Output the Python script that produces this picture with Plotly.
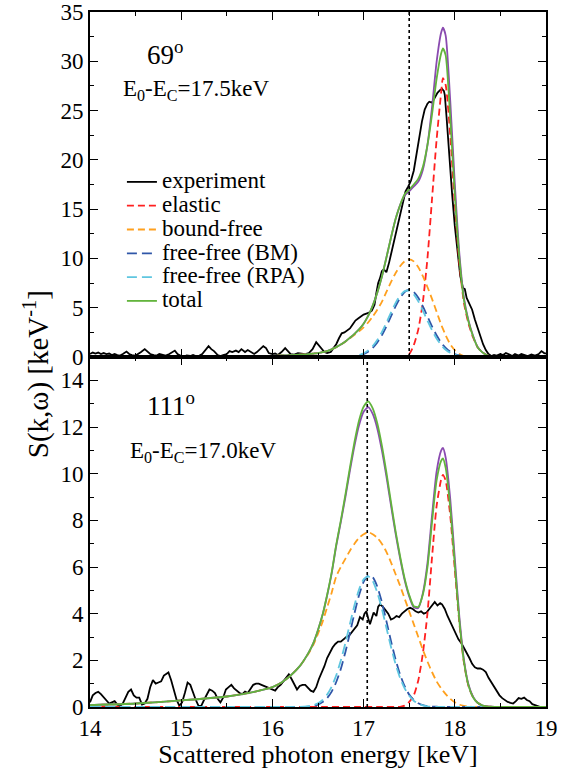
import plotly.graph_objects as go

# ---------------- data ----------------
# common energy grid for the model curves [keV]
E_MODEL = [14.0, 14.5, 15.0, 15.5, 15.8, 16.0, 16.1, 16.2, 16.3, 16.4,
           16.45, 16.5, 16.55, 16.6, 16.65, 16.7, 16.75, 16.8, 16.85, 16.9,
           16.95, 17.0, 17.05, 17.1, 17.15, 17.2, 17.25, 17.3, 17.35, 17.4,
           17.45, 17.5, 17.55, 17.6, 17.65, 17.7, 17.75, 17.8, 17.85, 17.87,
           17.9, 17.95, 18.0, 18.05, 18.1, 18.15, 18.2, 18.25, 18.3, 18.35,
           18.4, 18.5, 18.6, 18.8, 19.0]

# ----- 69 degrees (top panel) -----
top_elastic = [0, 0, 0, 0, 0, 0, 0, 0, 0, 0,
               0, 0, 0, 0, 0, 0, 0, 0, 0, 0,
               0, 0, 0, 0, 0, 0, 0, 0, 0, 0.01,
               0.1, 0.3, 1.2, 2.8, 5.6, 10.0, 16.0, 22.0, 26.8, 28.3,
               27.6, 22.5, 15.5, 9.5, 5.5, 3.4, 2.0, 1.0, 0.5, 0.2,
               0.05, 0, 0, 0, 0]
top_boundfree = [0.01, 0.02, 0.03, 0.06, 0.09, 0.12, 0.15, 0.19, 0.24, 0.3,
                 0.35, 0.4, 0.5, 0.6, 0.78, 1.0, 1.25, 1.55, 1.9, 2.25,
                 2.6, 3.0, 3.5, 4.1, 4.8, 5.6, 6.6, 7.6, 8.5, 9.2,
                 9.7, 9.9, 9.7, 9.1, 8.2, 7.1, 5.9, 4.6, 3.3, 2.85,
                 2.2, 1.3, 0.7, 0.3, 0.1, 0.03, 0.01, 0, 0, 0,
                 0, 0, 0, 0, 0]
top_ff_bm = [0, 0, 0, 0, 0, 0, 0, 0, 0, 0,
             0, 0, 0, 0, 0, 0, 0.01, 0.02, 0.04, 0.08,
             0.16, 0.30, 0.54, 0.92, 1.47, 2.21, 3.11, 4.12, 5.13, 6.0,
             6.59, 6.8, 6.59, 6.0, 5.13, 4.12, 3.11, 2.21, 1.47, 1.23,
             0.92, 0.54, 0.30, 0.16, 0.08, 0.04, 0.02, 0.01, 0, 0,
             0, 0, 0, 0, 0]
top_ff_rpa = [0, 0, 0, 0, 0, 0, 0, 0, 0, 0,
              0, 0, 0, 0, 0, 0, 0.01, 0.02, 0.05, 0.10,
              0.20, 0.38, 0.67, 1.11, 1.73, 2.53, 3.48, 4.50, 5.47, 6.23,
              6.68, 6.72, 6.35, 5.64, 4.70, 3.69, 2.71, 1.88, 1.22, 1.01,
              0.74, 0.43, 0.23, 0.12, 0.06, 0.02, 0.01, 0, 0, 0,
              0, 0, 0, 0, 0]
top_total = [0.01, 0.02, 0.03, 0.06, 0.09, 0.12, 0.15, 0.19, 0.24, 0.3,
             0.35, 0.4, 0.5, 0.6, 0.78, 1.0, 1.26, 1.57, 1.95, 2.35,
             2.8, 3.38, 4.17, 5.21, 6.53, 8.13, 10.08, 12.1, 13.97, 15.4,
             16.5, 17.0, 17.5, 18.1, 19.3, 21.5, 24.6, 28.2, 30.8, 31.3,
             30.6, 24.3, 16.5, 10.0, 5.8, 3.6, 2.1, 1.0, 0.5, 0.2,
             0.05, 0, 0, 0, 0]
top_total_bm = [0.01, 0.02, 0.03, 0.06, 0.09, 0.12, 0.15, 0.19, 0.24, 0.3,
                0.35, 0.4, 0.5, 0.6, 0.78, 1.0, 1.26, 1.57, 1.95, 2.35,
                2.8, 3.38, 4.17, 5.21, 6.53, 8.13, 10.08, 12.1, 13.97, 15.4,
                16.4, 16.8, 17.3, 17.8, 19.0, 21.5, 25.3, 29.9, 32.9, 33.4,
                32.6, 26.0, 17.6, 10.5, 6.0, 3.7, 2.15, 1.02, 0.5, 0.2,
                0.05, 0, 0, 0, 0]

top_exp_E = [14.00, 14.03, 14.06, 14.09, 14.12, 14.15, 14.18, 14.21, 14.24, 14.27,
             14.30, 14.33, 14.36, 14.40, 14.43, 14.46, 14.50, 14.53, 14.56, 14.60,
             14.63, 14.66, 14.70, 14.73, 14.76, 14.80, 14.83, 14.87, 14.90, 14.93,
             14.96, 15.00, 15.03, 15.06, 15.10, 15.13, 15.16, 15.20, 15.23, 15.26,
             15.30, 15.33, 15.36, 15.40, 15.43, 15.46, 15.50, 15.53, 15.56, 15.60,
             15.63, 15.66, 15.70, 15.73, 15.76, 15.80, 15.83, 15.86, 15.90, 15.93,
             15.96, 16.00, 16.03, 16.06, 16.10, 16.14, 16.17, 16.20, 16.24, 16.28,
             16.32, 16.36, 16.40, 16.44, 16.48, 16.51, 16.54, 16.57, 16.60, 16.64,
             16.67, 16.70, 16.73, 16.76, 16.79, 16.82, 16.85, 16.88, 16.91, 16.94,
             16.97, 17.00, 17.03, 17.06, 17.09, 17.12, 17.14, 17.16, 17.18, 17.20,
             17.22, 17.25, 17.28, 17.31, 17.34, 17.37, 17.40, 17.43, 17.46, 17.49,
             17.52, 17.55, 17.58, 17.61, 17.64, 17.67, 17.70, 17.72, 17.75, 17.78,
             17.81, 17.84, 17.86, 17.88, 17.89, 17.91, 17.93, 17.95, 17.97, 18.00,
             18.03, 18.06, 18.09, 18.11, 18.13, 18.16, 18.19, 18.22, 18.25, 18.28,
             18.31, 18.34, 18.37, 18.40, 18.43, 18.46, 18.50, 18.53, 18.56, 18.60,
             18.63, 18.66, 18.70, 18.73, 18.76, 18.80, 18.84, 18.88, 18.92, 18.95,
             18.98, 19.00]
top_exp_S = [0.3, 0.45, 0.35, 0.45, 0.3, 0.4, 0.3, 0.35, 0.2, 0.3,
             0.2, 0.15, 0.3, 0.55, 0.3, 0.2, 0.15, 0.3, 0.5, 0.8,
             0.5, 0.3, 0.2, 0.15, 0.3, 0.2, 0.15, 0.3, 0.45, 0.65,
             0.3, 0.1, 0.05, 0.15, 0.1, 0.2, 0.1, 0.15, 0.3, 0.6,
             1.1, 0.8, 0.6, 0.2, 0.1, 0.2, 0.3, 0.6, 0.5, 0.65,
             0.5, 0.8, 0.5, 0.7, 0.5, 0.3, 0.5, 0.8, 1.1, 0.9,
             0.4, 0.3, 0.35, 0.2, 0.5, 0.9, 0.6, 0.3, 0.25, 0.4,
             0.35, 0.3, 0.4, 0.8, 1.5, 1.2, 0.9, 0.5, 0.4, 0.5,
             0.9, 1.3, 1.9, 2.4, 2.5, 2.7, 2.9, 3.3, 3.7, 3.9,
             4.1, 4.3, 4.4, 4.5, 4.7, 5.3, 6.5, 7.5, 8.0, 8.7,
             8.9, 8.6, 9.6, 10.8, 12.2, 13.5, 14.6, 15.8, 16.8, 17.3,
             17.9, 18.9, 20.6, 22.3, 23.9, 25.1, 25.7, 25.9, 25.8, 26.3,
             26.8, 27.1, 27.2, 27.0, 26.6, 24.3, 21.6, 19.3, 16.6, 13.3,
             10.5, 8.2, 7.0, 6.9, 6.0, 5.3, 4.8, 3.8, 2.9, 2.2,
             1.3, 0.7, 0.3, 0.1, 0.2, 0.15, 0.3, 0.2, 0.4, 0.25,
             0.1, 0.3, 0.15, 0.3, 0.2, 0.1, 0.25, 0.15, 0.3, 0.6,
             0.4, 0.35]

# ----- 111 degrees (bottom panel) -----
bot_elastic = [0, 0, 0, 0, 0, 0, 0, 0, 0, 0,
               0, 0, 0, 0, 0, 0, 0, 0, 0, 0,
               0, 0, 0, 0, 0, 0, 0, 0, 0, 0.01,
               0.06, 0.22, 0.5, 1.15, 2.3, 4.0, 6.4, 8.6, 9.75, 9.95,
               9.7, 8.2, 5.9, 3.6, 1.9, 0.9, 0.42, 0.18, 0.07, 0.03,
               0.01, 0, 0, 0, 0]
bot_boundfree = [0.08, 0.15, 0.28, 0.45, 0.65, 0.85, 1.05, 1.35, 1.75, 2.31,
                 2.67, 3.14, 3.65, 4.27, 4.9, 5.6, 6.0, 6.35, 6.7, 7.0,
                 7.25, 7.4, 7.5, 7.4, 7.25, 7.0, 6.65, 6.2, 5.7, 5.2,
                 4.65, 4.1, 3.55, 3.0, 2.45, 1.95, 1.5, 1.1, 0.8, 0.7,
                 0.55, 0.35, 0.2, 0.1, 0.05, 0.02, 0, 0, 0, 0,
                 0, 0, 0, 0, 0]
bot_ff_bm = [0, 0, 0, 0, 0, 0, 0, 0, 0, 0.02,
             0.05, 0.10, 0.21, 0.38, 0.66, 1.07, 1.63, 2.35, 3.17, 4.02,
             4.79, 5.36, 5.63, 5.56, 5.16, 4.50, 3.68, 2.83, 2.05, 1.39,
             0.89, 0.53, 0.30, 0.16, 0.08, 0.04, 0.015, 0.01, 0, 0,
             0, 0, 0, 0, 0, 0, 0, 0, 0, 0,
             0, 0, 0, 0, 0]
bot_ff_rpa = [0, 0, 0, 0, 0, 0, 0, 0, 0, 0.04,
              0.08, 0.16, 0.30, 0.53, 0.87, 1.36, 1.99, 2.74, 3.56, 4.36,
              5.03, 5.47, 5.6, 5.40, 4.91, 4.21, 3.40, 2.58, 1.85, 1.25,
              0.80, 0.48, 0.27, 0.14, 0.07, 0.03, 0.01, 0, 0, 0,
              0, 0, 0, 0, 0, 0, 0, 0, 0, 0,
              0, 0, 0, 0, 0]
bot_total = [0.08, 0.15, 0.28, 0.45, 0.65, 0.85, 1.05, 1.35, 1.75, 2.35,
             2.75, 3.3, 3.95, 4.8, 5.77, 6.96, 7.99, 9.09, 10.26, 11.36,
             12.28, 12.87, 13.1, 12.8, 12.16, 11.21, 10.05, 8.78, 7.55, 6.46,
             5.51, 4.8, 4.32, 4.29, 4.82, 5.98, 7.91, 9.7, 10.55, 10.65,
             10.25, 8.55, 6.1, 3.7, 1.95, 0.92, 0.42, 0.18, 0.07, 0.03,
             0.01, 0, 0, 0, 0]
bot_total_bm = [0.08, 0.15, 0.28, 0.45, 0.65, 0.85, 1.05, 1.35, 1.75, 2.35,
                2.75, 3.3, 3.95, 4.78, 5.73, 6.91, 7.92, 8.99, 10.13, 11.19,
                12.07, 12.65, 12.85, 12.56, 11.94, 11.01, 9.88, 8.65, 7.45, 6.38,
                5.44, 4.74, 4.27, 4.24, 4.88, 6.16, 8.19, 10.08, 10.99, 11.1,
                10.69, 8.92, 6.37, 3.86, 2.03, 0.96, 0.44, 0.18, 0.07, 0.03,
                0.01, 0, 0, 0, 0]

bot_exp_E = [14.00, 14.03, 14.06, 14.09, 14.12, 14.15, 14.18, 14.21, 14.24, 14.27,
             14.30, 14.33, 14.36, 14.39, 14.42, 14.45, 14.48, 14.51, 14.54, 14.57,
             14.60, 14.63, 14.66, 14.69, 14.72, 14.75, 14.78, 14.81, 14.84, 14.86,
             14.89, 14.92, 14.95, 14.98, 15.01, 15.04, 15.07, 15.10, 15.13, 15.16,
             15.19, 15.22, 15.25, 15.28, 15.31, 15.34, 15.37, 15.40, 15.43, 15.46,
             15.49, 15.52, 15.55, 15.58, 15.61, 15.64, 15.67, 15.70, 15.73, 15.76,
             15.79, 15.82, 15.85, 15.88, 15.91, 15.94, 15.97, 16.00, 16.03, 16.06,
             16.09, 16.12, 16.15, 16.18, 16.21, 16.24, 16.27, 16.30, 16.33, 16.36,
             16.39, 16.42, 16.45, 16.48, 16.51, 16.54, 16.57, 16.60, 16.63, 16.66,
             16.69, 16.72, 16.75, 16.78, 16.81, 16.84, 16.87, 16.90, 16.93, 16.96,
             16.99, 17.01, 17.03, 17.05, 17.07, 17.09, 17.11, 17.14, 17.16, 17.18,
             17.21, 17.24, 17.27, 17.30, 17.33, 17.36, 17.39, 17.42, 17.45, 17.48,
             17.51, 17.54, 17.57, 17.60, 17.63, 17.66, 17.69, 17.72, 17.75, 17.78,
             17.81, 17.84, 17.86, 17.89, 17.92, 17.95, 17.98, 18.01, 18.04, 18.07,
             18.10, 18.13, 18.16, 18.19, 18.22, 18.25, 18.28, 18.31, 18.34, 18.37,
             18.40, 18.43, 18.46, 18.49, 18.52, 18.55, 18.58, 18.61, 18.64, 18.67,
             18.70, 18.73, 18.76, 18.79, 18.82, 18.85, 18.88, 18.91, 18.94, 18.97,
             19.00]
bot_exp_S = [0.2, 0.5, 0.6, 0.65, 0.55, 0.4, 0.25, 0.15, 0.2, 0.25,
             0.1, 0.05, 0.15, 0.4, 0.65, 0.75, 0.5, 0.4, 0.4, 0.1,
             0.15, 0.35, 0.85, 1.15, 1.0, 1.05, 1.1, 1.35, 1.45, 1.48,
             1.15, 0.7, 0.3, 0.05, 0.2, 0.6, 1.05, 0.95, 0.6, 0.3,
             0.05, 0.05, 0.3, 0.5, 0.75, 0.7, 0.6, 0.35, 0.2, 0.4,
             0.75, 0.85, 0.95, 0.8, 0.7, 0.6, 0.55, 0.66, 0.6, 0.75,
             0.95, 1.0, 1.0, 0.95, 0.9, 0.85, 0.8, 0.75, 0.7, 0.85,
             0.95, 1.1, 1.25, 1.4, 1.2, 1.0, 0.75, 0.9, 0.95, 0.95,
             0.8, 0.7, 0.65, 0.85, 1.2, 1.45, 1.75, 2.1, 2.35, 2.55,
             2.7, 2.8, 2.8, 2.9, 3.0, 3.05, 3.2, 3.4, 3.5, 3.85,
             3.75, 4.0, 4.1, 3.8, 3.55, 3.8, 4.05, 3.9, 4.3, 4.4,
             4.3, 4.15, 4.0, 3.75, 3.8, 3.9, 3.85, 4.0, 4.1, 4.2,
             4.25, 4.2, 4.1, 4.05, 4.1, 4.0, 4.05, 4.2, 4.4, 4.5,
             4.35, 4.45, 4.4, 4.2, 3.9, 3.65, 3.35, 3.15, 2.9, 2.75,
             2.55, 2.35, 2.1, 1.85, 1.7, 1.65, 1.65, 1.6, 1.5, 1.25,
             1.05, 0.85, 0.65, 0.5, 0.38, 0.28, 0.22, 0.18, 0.15, 0.25,
             0.38, 0.35, 0.4, 0.3, 0.25, 0.12, 0.08, 0.03, 0.0, 0.0,
             0.0]

# E0 - Ec reference energies (dotted lines)
E_REF_TOP = 17.5
E_REF_BOT = 17.04

# ---------------- styles ----------------
FONT = "Liberation Serif, Times New Roman, Times, serif"
C_EXP = "#000000"
C_EL = "#ff2020"
C_BF = "#ffa01e"
C_BM = "#2f56a8"
C_RPA = "#5fc6e0"
C_TOT = "#62b43c"
C_TOT_BM = "#8a4bb0"

fig = go.Figure()


def lbl(t):
    return '<span style="font-size:23px">' + t + '</span>'


def add_panel(xa, ya, expE, expS, el, bf, bm, rpa, tot, totbm, show):
    fig.add_trace(go.Scatter(x=expE, y=expS, mode="lines", name=lbl("experiment"),
                             line=dict(color=C_EXP, width=1.8), xaxis=xa, yaxis=ya,
                             showlegend=show))
    fig.add_trace(go.Scatter(x=E_MODEL, y=el, mode="lines", name=lbl("elastic"),
                             line=dict(color=C_EL, width=1.8, dash="7px,4px", shape="spline", smoothing=0.6),
                             xaxis=xa, yaxis=ya, showlegend=show))
    fig.add_trace(go.Scatter(x=E_MODEL, y=bf, mode="lines", name=lbl("bound-free"),
                             line=dict(color=C_BF, width=1.8, dash="7px,4px", shape="spline", smoothing=0.6),
                             xaxis=xa, yaxis=ya, showlegend=show))
    fig.add_trace(go.Scatter(x=E_MODEL, y=bm, mode="lines", name=lbl("free-free (BM)"),
                             line=dict(color=C_BM, width=1.8, dash="10px,5px", shape="spline", smoothing=0.6),
                             xaxis=xa, yaxis=ya, showlegend=show))
    fig.add_trace(go.Scatter(x=E_MODEL, y=rpa, mode="lines", name=lbl("free-free (RPA)"),
                             line=dict(color=C_RPA, width=1.8, dash="10px,5px", shape="spline", smoothing=0.6),
                             xaxis=xa, yaxis=ya, showlegend=show))
    fig.add_trace(go.Scatter(x=E_MODEL, y=totbm, mode="lines", name="total (BM)",
                             line=dict(color=C_TOT_BM, width=1.8, shape="spline", smoothing=0.6),
                             xaxis=xa, yaxis=ya, showlegend=False))
    fig.add_trace(go.Scatter(x=E_MODEL, y=tot, mode="lines", name=lbl("total"),
                             line=dict(color=C_TOT, width=1.8, shape="spline", smoothing=0.6),
                             xaxis=xa, yaxis=ya, showlegend=show))


add_panel("x", "y", top_exp_E, top_exp_S, top_elastic, top_boundfree, top_ff_bm,
          top_ff_rpa, top_total, top_total_bm, True)
add_panel("x2", "y2", bot_exp_E, bot_exp_S, bot_elastic, bot_boundfree, bot_ff_bm,
          bot_ff_rpa, bot_total, bot_total_bm, False)

# dotted reference lines
fig.add_shape(type="line", xref="x", yref="y domain", x0=E_REF_TOP, x1=E_REF_TOP, y0=0, y1=1,
              line=dict(color="black", width=1.6, dash="dot"))
fig.add_shape(type="line", xref="x2", yref="y2 domain", x0=E_REF_BOT, x1=E_REF_BOT, y0=0, y1=1,
              line=dict(color="black", width=1.6, dash="dot"))

axis_common = dict(showline=True, linecolor="black", linewidth=1.6, ticks="inside",
                   tickcolor="black", tickwidth=1.4, mirror="allticks", showgrid=False,
                   zeroline=False, ticklabeloverflow="allow", automargin=False,
                   tickfont=dict(family=FONT, size=23, color="black"))
minor_common = dict(ticks="inside", tickcolor="black", tickwidth=1.4, ticklen=4)

TOP_M, BOT_M = 12, 62
plot_h = 769 - TOP_M - BOT_M
split = 350 / plot_h
fig.update_layout(
    width=570, height=769,
    margin=dict(l=90, r=24, t=TOP_M, b=BOT_M, autoexpand=False),
    paper_bgcolor="white", plot_bgcolor="white",
    font=dict(family=FONT, color="black"),
    xaxis=dict(domain=[0, 1], range=[14, 19], anchor="y", dtick=1, ticklen=8,
               showticklabels=False, minor=dict(dtick=0.5, **minor_common), **axis_common),
    yaxis=dict(domain=[split, 1], range=[0, 35], anchor="x", dtick=5, ticklen=8,
               minor=dict(dtick=2.5, **minor_common), **axis_common),
    xaxis2=dict(domain=[0, 1], range=[14, 19], anchor="y2", dtick=1, ticklen=8,
                minor=dict(dtick=0.5, **minor_common),
                title=dict(text="Scattered photon energy [keV]", font=dict(family=FONT, size=26),
                           standoff=8),
                **axis_common),
    yaxis2=dict(domain=[0, split], range=[0, 15], anchor="x2", ticklen=8,
                tickvals=[0, 2, 4, 6, 8, 10, 12, 14],
                minor=dict(dtick=1, **minor_common), **axis_common),
    legend=dict(x=0.07, y=(707 - 165) / plot_h, xanchor="left", yanchor="top",
                bgcolor="rgba(0,0,0,0)", borderwidth=0,
                font=dict(family=FONT, size=16, color="black"),
                itemwidth=30, tracegroupgap=0),
    showlegend=True,
)

ann_font = dict(family=FONT, color="black")
fig.add_annotation(text="S(k,ω) [keV<sup>-1</sup>]", xref="paper", yref="paper",
                   x=-0.118, y=(707 - 374) / plot_h, textangle=-90, showarrow=False,
                   font=dict(size=29, **ann_font), xanchor="center", yanchor="middle")
fig.add_annotation(text="69<sup>o</sup>", xref="x domain", yref="y domain",
                   x=0.12, y=0.88, showarrow=False, xanchor="left", yanchor="middle",
                   font=dict(size=27, **ann_font))
fig.add_annotation(text="E<sub>0</sub>-E<sub>C</sub>=17.5keV", xref="x domain", yref="y domain",
                   x=0.068, y=0.775, showarrow=False, xanchor="left", yanchor="middle",
                   font=dict(size=23, **ann_font))
fig.add_annotation(text="111<sup>o</sup>", xref="x2 domain", yref="y2 domain",
                   x=0.12, y=0.865, showarrow=False, xanchor="left", yanchor="middle",
                   font=dict(size=27, **ann_font))
fig.add_annotation(text="E<sub>0</sub>-E<sub>C</sub>=17.0keV", xref="x2 domain", yref="y2 domain",
                   x=0.083, y=0.73, showarrow=False, xanchor="left", yanchor="middle",
                   font=dict(size=23, **ann_font))

fig.write_html("out.html")
